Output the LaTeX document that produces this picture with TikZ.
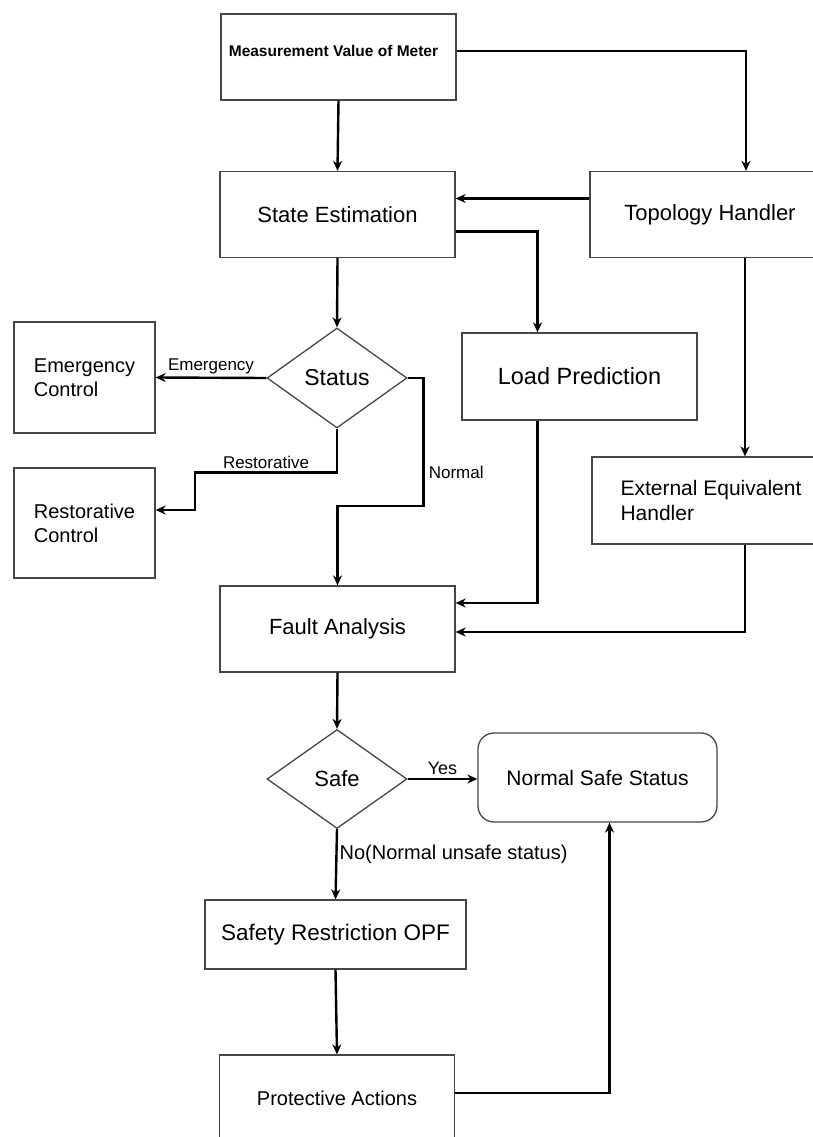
\documentclass[tikz,border=0pt]{standalone}
\usepackage{fontspec}
\setmainfont{Liberation Sans}
\usetikzlibrary{shapes.geometric,arrows.meta,positioning}
\definecolor{frame}{RGB}{70,70,70}

\begin{document}
\begin{tikzpicture}[
    x=1pt, y=-1pt,
    box/.style={rectangle, draw=frame, line width=1.3pt, minimum width=235pt, minimum height=86pt, align=center, inner sep=0pt, font=\fontsize{22}{26}\selectfont},
    sidebox/.style={box, minimum width=141pt, minimum height=111pt, align=left, font=\fontsize{20}{24}\selectfont},
    decision/.style={diamond, draw=frame, line width=1.3pt, minimum width=140pt, minimum height=100pt, inner sep=0pt, font=\fontsize{23}{26}\selectfont},
    endbox/.style={box, rounded corners=16pt, minimum width=239pt, minimum height=89pt, font=\fontsize{21}{25}\selectfont},
    lbl/.style={inner sep=0pt, font=\fontsize{17}{20}\selectfont},
    arrow/.style={-{Stealth[length=10pt, width=9pt]}, line width=2.4pt}
]
\useasboundingbox (0,0) rectangle (813,1137);
\clip (0,0) rectangle (813,1137);

% Input and estimation
\node[box, label={[font=\bfseries\fontsize{15.5}{18}\selectfont, xshift=-5pt, yshift=6pt]center:Measurement Value of Meter}] (meas) at (338.5,57) {};
\node[box] (state) at (337.5,214.5) {State Estimation};
\node[box, minimum width=240pt] (topo) at (710,214.5) {Topology Handler};
\node[box, minimum height=87pt, font=\fontsize{23.5}{26}\selectfont] (load) at (579.5,376.5) {Load Prediction};
\node[box, minimum width=238pt, minimum height=87pt, align=left, font=\fontsize{21}{25}\selectfont] (ext) at (711,500.5) {External Equivalent\\Handler};

% Status branch
\node[decision] (status) at (337,378) {Status};
\node[sidebox] (emerg) at (84.5,377.5) {Emergency\\Control};
\node[sidebox, minimum height=110pt] (restor) at (84.5,523) {Restorative\\Control};

% Fault analysis and safety check
\node[box] (fault) at (337.5,629) {Fault Analysis};
\node[decision, minimum height=99pt, font=\fontsize{22}{26}\selectfont] (safe) at (337,779) {Safe};
\node[endbox] (nss) at (597.5,777.5) {Normal Safe Status};
\node[box, minimum width=261pt, minimum height=69pt, font=\fontsize{22.5}{26}\selectfont] (safety) at (335.5,934.5) {Safety Restriction OPF};
\node[box, font=\fontsize{20}{24}\selectfont] (prot) at (337,1098) {Protective Actions};

% Arrows
\draw[arrow] ([yshift=6pt]meas.east) -| ([xshift=36pt]topo.north);
\draw[arrow] (meas.south) -- (state.north);
\draw[arrow] ([yshift=16pt]topo.west) -- ([yshift=16pt]state.east);
\draw[arrow] ([yshift=-17pt]state.east) -| ([xshift=-42pt]load.north);
\draw[arrow] (state.south) -- (status.north);
\draw[arrow] ([xshift=35pt]topo.south) -- ([xshift=34pt]ext.north);

\draw[arrow] (status.west) -- node[above=3pt, lbl] {Emergency} (emerg.east);
\draw[arrow] (status.south) -- ++(0,44) -- node[above=3pt, lbl] {Restorative} ++(-142,0) |- ([yshift=13pt]restor.east);
\draw[arrow] (status.east) -- ++(16,0) -- node[pos=0.74, right=4pt, lbl] {Normal} ++(0,128) -| (fault.north);

\draw[arrow] ([xshift=-42pt]load.south) |- ([yshift=26pt]fault.east);
\draw[arrow] ([xshift=34pt]ext.south) |- ([yshift=-3pt]fault.east);

\draw[arrow] (fault.south) -- (safe.north);
\draw[arrow] (safe.east) -- node[above=3pt, lbl, font=\fontsize{18}{20}\selectfont] {Yes} (safe.east -| nss.west);
\draw[arrow] (safe.south) -- node[pos=0.36, right=2pt, lbl, font=\fontsize{20}{24}\selectfont] {No(Normal unsafe status)} (safety.north);
\draw[arrow] (safety.south) -- (prot.north);
\draw[arrow] ([yshift=5pt]prot.east) -| ([xshift=12pt]nss.south);

\end{tikzpicture}
\end{document}
